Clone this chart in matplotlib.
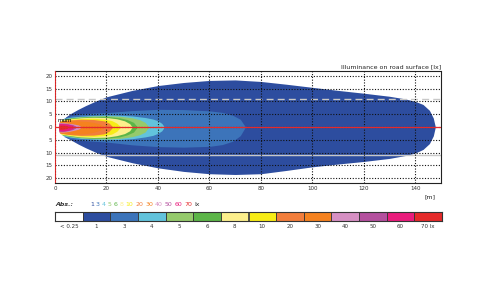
import matplotlib
matplotlib.use("Agg")
import matplotlib.pyplot as plt

# isolux levels and colours
levels = ["< 0.25", "1", "3", "4", "5", "6", "8", "10", "20", "30", "40", "50", "60", "70 lx"]
colors = ["#ffffff", "#2d4d9f", "#3c74ba", "#62c3dc", "#95ca6c", "#5cb548",
          "#fcef8c", "#f7ec16", "#f27e3c", "#f5821f", "#d690c3", "#b4509e",
          "#e91c7c", "#e52a2a"]

# contour outlines: x [m], upper / lower edge [m]
x_1 = [4, 6, 9, 12, 16, 20, 30, 40, 50, 60, 70, 80, 90, 100, 110, 120, 130, 136, 140, 143, 145.5, 147, 147.8]
up_1 = [3.8, 5.2, 6.9, 8.4, 10.2, 11.8, 14.3, 16.2, 17.4, 18.2, 18.4, 17.8, 16.7, 15.5, 14.3, 13.2, 12.0, 11.0, 10.0, 8.8, 6.5, 3.5, 0]
lo_1 = [-4.0, -5.0, -6.7, -8.2, -10.0, -11.5, -14.0, -16.0, -17.4, -18.3, -18.6, -18.3, -17.0, -15.6, -14.5, -13.5, -12.3, -11.2, -10.2, -8.8, -6.5, -3.5, 0]

x_3 = [3.5, 6, 10, 15, 20, 30, 40, 50, 60, 65, 69, 72, 74]
up_3 = [3.5, 4.4, 5.0, 5.4, 5.6, 6.4, 6.9, 6.8, 6.3, 5.7, 4.6, 3.0, 0]
lo_3 = [-3.8, -4.6, -5.2, -5.6, -5.9, -7.0, -7.7, -7.9, -7.6, -6.9, -5.6, -3.4, 0]

x_4 = [3, 6, 10, 15, 20, 25, 30, 35, 38, 40, 41.5, 42.5]
up_4 = [3.2, 3.8, 4.2, 4.5, 4.7, 4.6, 4.3, 3.7, 3.1, 2.4, 1.4, 0]
lo_4 = [-3.4, -4.0, -4.5, -4.8, -5.0, -4.9, -4.6, -3.9, -3.3, -2.5, -1.5, 0]

x_5 = [2.8, 6, 10, 15, 20, 25, 30, 33, 35, 36.5]
up_5 = [3.0, 3.6, 4.0, 4.3, 4.4, 4.2, 3.6, 2.8, 1.8, 0]
lo_5 = [-3.2, -3.8, -4.3, -4.6, -4.7, -4.5, -3.8, -3.0, -2.0, 0]

x_6 = [2.5, 6, 10, 15, 20, 25, 28, 30.5, 32]
up_6 = [2.8, 3.4, 3.8, 4.1, 4.1, 3.6, 2.9, 1.8, 0]
lo_6 = [-3.0, -3.6, -4.1, -4.4, -4.4, -3.9, -3.1, -2.0, 0]

x_8 = [2.2, 6, 10, 15, 20, 24, 27, 29, 30]
up_8 = [2.6, 3.2, 3.6, 3.8, 3.7, 3.2, 2.4, 1.3, 0]
lo_8 = [-2.8, -3.4, -3.9, -4.1, -4.0, -3.4, -2.6, -1.5, 0]

x_10 = [2, 6, 10, 15, 19, 22, 24, 25.5]
up_10 = [2.4, 3.0, 3.3, 3.4, 3.1, 2.5, 1.5, 0]
lo_10 = [-2.6, -3.2, -3.6, -3.7, -3.4, -2.8, -1.7, 0]

x_20 = [1.8, 5, 10, 15, 19, 21, 22.5]
up_20 = [2.2, 2.7, 3.0, 2.9, 2.4, 1.5, 0]
lo_20 = [-2.4, -2.9, -3.3, -3.2, -2.7, -1.7, 0]

x_30 = [1.6, 4, 8, 12, 15, 17.5, 19]
up_30 = [2.0, 2.3, 2.4, 2.2, 1.8, 1.1, 0]
lo_30 = [-2.2, -2.6, -2.8, -2.6, -2.1, -1.3, 0]

x_40 = [1.5, 3, 5, 7, 9, 10.5]
up_40 = [1.7, 1.7, 1.5, 1.2, 0.8, 0]
lo_40 = [-1.9, -2.0, -1.8, -1.4, -0.9, 0]

x_50 = [1.5, 3, 5, 7, 8.5]
up_50 = [1.5, 1.5, 1.3, 0.9, 0]
lo_50 = [-1.7, -1.8, -1.5, -1.0, 0]

x_60 = [1.5, 3, 5, 6.5, 7.5]
up_60 = [1.3, 1.3, 1.1, 0.7, 0]
lo_60 = [-1.5, -1.6, -1.3, -0.8, 0]

x_70 = [1.5, 3, 4.5, 5.5]
up_70 = [0.7, 0.7, 0.5, 0]
lo_70 = [-0.9, -0.9, -0.6, 0]

outlines = [(x_1, up_1, lo_1), (x_3, up_3, lo_3), (x_4, up_4, lo_4), (x_5, up_5, lo_5),
            (x_6, up_6, lo_6), (x_8, up_8, lo_8), (x_10, up_10, lo_10), (x_20, up_20, lo_20),
            (x_30, up_30, lo_30), (x_40, up_40, lo_40), (x_50, up_50, lo_50),
            (x_60, up_60, lo_60), (x_70, up_70, lo_70)]

x_ticks = [0, 20, 40, 60, 80, 100, 120, 140]
y_ticks = [20, 15, 10, 5, 0, -5, -10, -15, -20]

fig = plt.figure(figsize=(5, 2.84), dpi=100)
ax = fig.add_axes([0.11, 0.355, 0.772, 0.396])

for (xs, up, lo), c in zip(outlines, colors[1:]):
    ax.fill_between(xs, lo, up, color=c, lw=0, zorder=1)

ax.set_xlim(0, 150)
ax.set_ylim(-22, 22)
ax.set_xticks(x_ticks)
ax.set_yticks(y_ticks)
ax.set_yticklabels([str(abs(v)) for v in y_ticks])
ax.tick_params(labelsize=4, length=0, pad=2, colors="#333333")
ax.set_axisbelow(False)
ax.grid(True, color="#111111", ls=(0, (1, 1.5)), lw=0.8)

ax.axhline(10.8, color="#c8c8c8", ls=(0, (5, 3)), lw=1, zorder=2)
ax.axhline(-10.8, color="#c8c8c8", lw=1, zorder=2)
ax.axhline(0, color="#e52a2a", lw=0.9, zorder=4)
ax.axvline(0, color="#e52a2a", lw=1.2, zorder=4)

for s in ["top", "right", "bottom"]:
    ax.spines[s].set_color("#222222")
    ax.spines[s].set_linewidth(0.8)
ax.spines["top"].set_linestyle((0, (1, 1)))
ax.spines["left"].set_color("#e52a2a")

ax.text(1, 2.0, "mum", fontsize=4, color="black", zorder=5)
ax.text(1.0, 1.015, "Illuminance on road surface [lx]", transform=ax.transAxes,
        ha="right", va="bottom", fontsize=4.5, color="#222222")
ax.text(0.985, -0.1, "[m]", transform=ax.transAxes, ha="right", va="top",
        fontsize=4.5, color="#222222")

# legend line "Abs.:" with coloured numbers
fig.text(0.11, 0.276, "Abs.:", fontsize=4.5, style="italic", weight="bold", color="#333333")
fig.canvas.draw()
renderer = fig.canvas.get_renderer()
xpos = 0.18
for lab, c in zip(levels[1:], colors[1:]):
    t = fig.text(xpos, 0.276, lab.replace(" lx", ""), fontsize=4.5, color=c)
    bb = t.get_window_extent(renderer)
    xpos += bb.width / fig.bbox.width + 0.004
fig.text(xpos, 0.276, "lx", fontsize=4.5, color="#333333")

# colour bar
cax = fig.add_axes([0.11, 0.222, 0.774, 0.03])
cax.bar(range(len(colors)), [1] * len(colors), width=1, color=colors,
        edgecolor="#333333", linewidth=0.6)
cax.set_xlim(-0.5, len(colors) - 0.5)
cax.set_ylim(0, 1)
cax.set_yticks([])
cax.set_xticks(range(len(levels)))
cax.set_xticklabels(levels)
cax.tick_params(labelsize=4, length=0, pad=2, colors="#333333")
for s in cax.spines.values():
    s.set_color("#333333")
    s.set_linewidth(0.8)

fig.savefig("out.png", dpi=100)
